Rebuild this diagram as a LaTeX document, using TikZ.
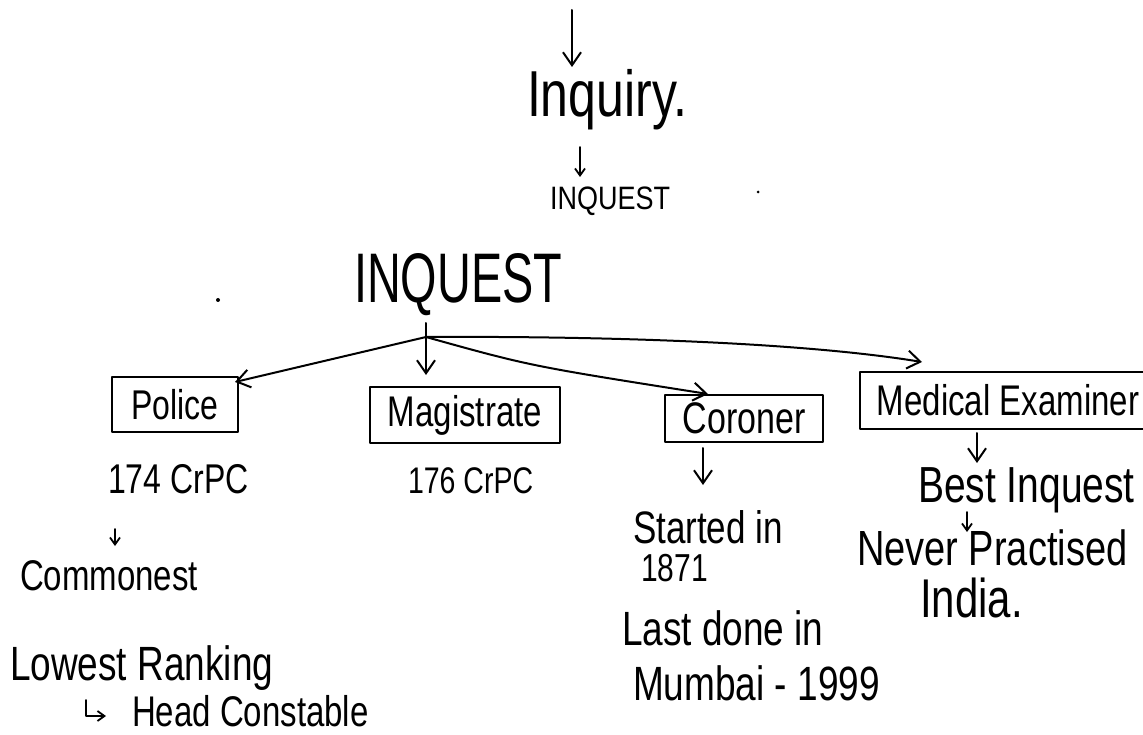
\documentclass[tikz,border=0pt]{standalone}
\usepackage{fontspec}
\setmainfont{Liberation Sans}
\usetikzlibrary{arrows.meta}
\newcommand\myfs[1]{\fontsize{#1}{#1}\selectfont}
\newcommand\tall[1]{\scalebox{1}[1.3]{#1}}
\begin{document}
\begin{tikzpicture}[x=1pt,y=-1pt,
  hand/.style={line width=2pt, line cap=round, line join=round},
  arr/.style={hand, -{Straight Barb[length=13pt,width=18pt,line width=2pt]}},
  sarr/.style={hand, line width=1.8pt, -{Straight Barb[length=7pt,width=10pt,line width=1.8pt]}},
  lbl/.style={inner sep=0pt, outer sep=0pt, anchor=base west},
  box/.style={draw, hand, inner sep=0pt, outer sep=0pt}
]
\useasboundingbox (0,0) rectangle (1143,735);
\clip (0,0) rectangle (1143,735);

% top part
\coordinate (top) at (572,10);
\coordinate (topE) at (572,67);
\node[lbl, font=\myfs{50}] (inq) at (527,117) {\tall{Inquiry.}};
\draw[arr] (top) -- (topE);
\coordinate (a1) at (580,147);
\coordinate (a1E) at (580,177);
\node[lbl, font=\myfs{27}] (inq2) at (550,210) {\scalebox{1}[1.2]{INQUEST}};
\draw[sarr] (a1) -- (a1E);

% big INQUEST
\node[lbl, font=\myfs{52}] (big) at (354,303) {\scalebox{0.9}[1.35]{INQUEST}};
\coordinate (j) at (426,337);
\coordinate (jtop) at (426,323);

% category boxes
\node[box, minimum width=126pt, minimum height=55pt, font=\myfs{32}] (pol) at (175,404.5) {\tall{Police}};
\node[box, minimum width=190pt, minimum height=56pt, font=\myfs{33}] (mag) at (465,415) {\tall{Magistrate}};
\node[box, minimum width=158pt, minimum height=47pt, font=\myfs{34}] (cor) at (744,418.5) {\tall{Coroner}};
\node[box, minimum width=296pt, minimum height=57pt, font=\myfs{33}, anchor=west] (med) at (860,400.5) {\tall{Medical Examiner}};

% branches
\draw[arr] (j) -- ([xshift=-3pt,yshift=-5pt]pol.north east);
\draw[arr] (jtop) -- ([yshift=12pt]jtop |- mag.north);
\draw[arr] (j) .. controls (530,366) .. ([xshift=-36pt,yshift=1pt]cor.north);
\draw[arr] (j) .. controls (600,336) and (800,342) .. ([xshift=62pt,yshift=10pt]med.north west);

% Police column
\node[lbl, font=\myfs{32}] (c174) at (108,493) {\tall{174 CrPC}};
\node[lbl, font=\myfs{33}] (comm) at (20,590) {\tall{Commonest}};
\coordinate (c174S) at (115,529);
\coordinate (commN) at (115,546);
\draw[sarr] (c174S) -- (commN);
\node[lbl, font=\myfs{37}] (low) at (10,680) {\tall{Lowest Ranking}};
\node[lbl, font=\myfs{33}] (head) at (132,726) {\tall{Head Constable}};
\coordinate (hk) at (86,700);
\coordinate (hkE) at (106,716);
\draw[sarr] (hk) |- (hkE);

% Magistrate column
\node[lbl, font=\myfs{28.5}] (c176) at (408,493) {\tall{176 CrPC}};

% Coroner column
\node[lbl, font=\myfs{35}] (st1) at (633,543) {\tall{Started in}};
\node[lbl, font=\myfs{30}] (st2) at (641,581) {\tall{1871}};
\node[lbl, font=\myfs{37}] (last) at (622,645) {\tall{Last done in}};
\node[lbl, font=\myfs{37}] (mum) at (633,700) {\tall{Mumbai - 1999}};
\coordinate (stN) at (703,485);
\draw[arr] ([xshift=-41pt,yshift=-6pt]cor.south) -- (stN);

% Medical examiner column
\node[lbl, font=\myfs{39}] (best) at (918,502) {\tall{Best Inquest}};
\node[lbl, font=\myfs{38}] (never) at (857,565) {\tall{Never Practised}};
\node[lbl, font=\myfs{42}] (india) at (920,617) {\tall{India.}};
\coordinate (bestN) at (977,463);
\draw[arr] ([yshift=-4pt]med.south -| bestN) -- (bestN);
\coordinate (bS) at (967,512);
\coordinate (nN) at (967,532);
\draw[sarr] (bS) -- (nN);

% stray dots
\fill (218,300) circle (2pt);
\fill (758,192) circle (1.5pt);
\end{tikzpicture}
\end{document}
